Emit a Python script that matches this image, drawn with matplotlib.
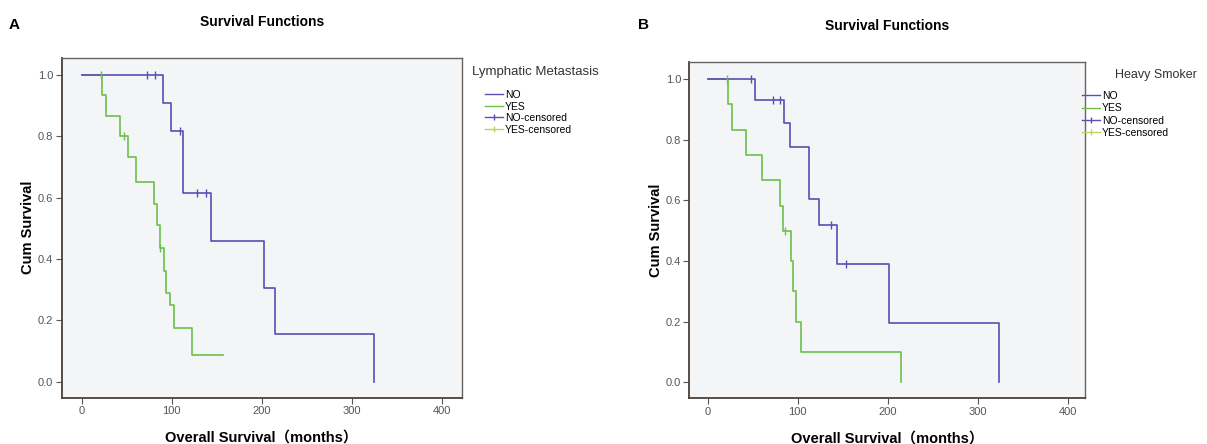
import matplotlib
matplotlib.use("Agg")
import matplotlib.pyplot as plt
from matplotlib.lines import Line2D

# ---- Panel A: Lymphatic Metastasis ----
a_no_t = [0, 90, 99, 112, 144, 203, 215, 325]
a_no_s = [1.0, 0.909, 0.818, 0.614, 0.460, 0.307, 0.154, 0.0]
a_no_cens_t = [72, 81, 109, 128, 138]
a_no_cens_s = [1.0, 1.0, 0.818, 0.614, 0.614]

a_yes_t = [0, 23, 27, 43, 52, 60, 80, 84, 87, 91, 94, 98, 103, 122, 157]
a_yes_s = [1.0, 0.933, 0.867, 0.80, 0.733, 0.652, 0.58, 0.51, 0.435, 0.36, 0.29, 0.25, 0.174, 0.087, 0.087]
a_yes_cens_t = [21, 47, 87]
a_yes_cens_s = [1.0, 0.80, 0.435]

# ---- Panel B: Heavy Smoker ----
b_no_t = [0, 53, 85, 91, 113, 124, 144, 201, 323]
b_no_s = [1.0, 0.933, 0.856, 0.778, 0.605, 0.519, 0.389, 0.195, 0.0]
b_no_cens_t = [48, 73, 80, 137, 154]
b_no_cens_s = [1.0, 0.933, 0.933, 0.519, 0.389]

b_yes_t = [0, 23, 27, 43, 60, 80, 84, 92, 95, 98, 104, 215]
b_yes_s = [1.0, 0.917, 0.833, 0.75, 0.667, 0.583, 0.5, 0.4, 0.3, 0.2, 0.1, 0.0]
b_yes_cens_t = [22, 86]
b_yes_cens_s = [1.0, 0.5]

x_ticks = [0, 100, 200, 300, 400]
y_ticks = [0.0, 0.2, 0.4, 0.6, 0.8, 1.0]
legend_labels = ["NO", "YES", "NO-censored", "YES-censored"]

BLUE = "#5a4fb5"
GREEN = "#6cc04a"
YCENS = "#c8cf5a"
FONT = ["Liberation Sans", "Noto Sans CJK SC", "DejaVu Sans"]

W, H = 1207, 444
fig = plt.figure(figsize=(W / 100, H / 100), dpi=100)
fig.patch.set_facecolor("white")

def panel(rect, xlim, ylim, no_t, no_s, nct, ncs, yes_t, yes_s, yct, ycs):
    ax = fig.add_axes(rect)
    ax.set_facecolor("#f4f5f7")
    ax.step(yes_t, yes_s, where="post", color=GREEN, lw=1.2)
    ax.step(no_t, no_s, where="post", color=BLUE, lw=1.2)
    ax.plot(nct, ncs, ls="none", marker="|", ms=6, mew=1.0, color=BLUE)
    ax.plot(yct, ycs, ls="none", marker="|", ms=6, mew=1.0, color=GREEN)
    ax.set_xlim(*xlim)
    ax.set_ylim(*ylim)
    ax.set_xticks(x_ticks)
    ax.set_yticks(y_ticks)
    ax.set_xticklabels([str(v) for v in x_ticks], fontsize=8, color="#555555", family=FONT)
    ax.set_yticklabels([f"{v:.1f}" for v in y_ticks], fontsize=8, color="#555555", family=FONT)
    ax.tick_params(direction="out", length=4, width=0.8, color="#555555", pad=2)
    for s in ["left", "bottom"]:
        ax.spines[s].set_color("#4a4038")
        ax.spines[s].set_linewidth(1.3)
    for s in ["top", "right"]:
        ax.spines[s].set_color("#6a625c")
        ax.spines[s].set_linewidth(1.0)
    ax.set_ylabel("Cum Survival", fontsize=10.5, fontweight="bold", family=FONT, labelpad=2)
    ax.set_xlabel("Overall Survival（months）", fontsize=10.5, fontweight="bold", family=FONT, labelpad=10.5)
    ax.set_title("Survival Functions", fontsize=10, fontweight="bold", family=FONT, pad=23)
    return ax

axA = panel([0.0511, 0.1043, 0.3314, 0.7658], (-22.2, 422), (-0.052, 1.056),
            a_no_t, a_no_s, a_no_cens_t, a_no_cens_s,
            a_yes_t, a_yes_s, a_yes_cens_t, a_yes_cens_s)
axB = panel([0.5711, 0.1029, 0.3278, 0.7568], (-20.4, 419), (-0.053, 1.056),
            b_no_t, b_no_s, b_no_cens_t, b_no_cens_s,
            b_yes_t, b_yes_s, b_yes_cens_t, b_yes_cens_s)

fig.text(9 / W, 1 - 25 / H, "A", fontsize=11, fontweight="bold", family=FONT, va="center")
fig.text(638 / W, 1 - 25 / H, "B", fontsize=11, fontweight="bold", family=FONT, va="center")

def handles():
    return [
        Line2D([], [], color=BLUE, lw=1.0),
        Line2D([], [], color=GREEN, lw=1.0),
        Line2D([], [], color=BLUE, lw=1.0, marker="|", ms=5),
        Line2D([], [], color=YCENS, lw=1.0, marker="|", ms=5),
    ]

# Legend A
fig.text(472 / W, 1 - 72 / H, "Lymphatic Metastasis", fontsize=9.5, family=FONT,
         va="center", ha="left", color="#333333")
fig.legend(handles(), legend_labels, loc="upper left",
           bbox_to_anchor=(485 / W, 1 - 90 / H), frameon=False,
           borderpad=0, borderaxespad=0, handlelength=1.7, handletextpad=0.2,
           labelspacing=0.15, prop={"family": FONT, "size": 7.5})
# Legend B
fig.text(1115 / W, 1 - 75 / H, "Heavy Smoker", fontsize=9, family=FONT,
         va="center", ha="left", color="#333333")
fig.legend(handles(), legend_labels, loc="upper left",
           bbox_to_anchor=(1082 / W, 1 - 91 / H), frameon=False,
           borderpad=0, borderaxespad=0, handlelength=1.7, handletextpad=0.2,
           labelspacing=0.22, prop={"family": FONT, "size": 7.5})

fig.savefig("out.png", dpi=100, facecolor="white")
